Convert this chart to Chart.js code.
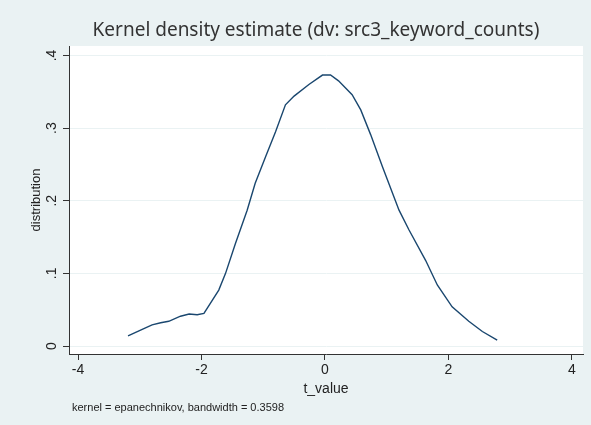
<!DOCTYPE html>
<html>
<head>
<meta charset="utf-8">
<title>Kernel density estimate</title>
<script src="https://cdn.jsdelivr.net/npm/chart.js@4/dist/chart.umd.min.js"></script>
<style>
  html, body { margin: 0; padding: 0; background: #eaf2f3; }
  canvas { display: block; }
</style>
</head>
<body>
<canvas id="chart" width="591" height="425"></canvas>
<script>
// estimated density of t_value (epanechnikov kernel)
const tValues = [
  -3.19, -2.96, -2.80, -2.66, -2.53, -2.34, -2.20, -2.07, -1.96, -1.72,
  -1.61, -1.45, -1.26, -1.13, -0.96, -0.80, -0.64, -0.50, -0.26, -0.04,
  0.09, 0.22, 0.44, 0.58, 0.74, 0.93, 1.20, 1.36, 1.63, 1.82,
  2.06, 2.33, 2.55, 2.79
];
const density = [
  0.014, 0.023, 0.029, 0.032, 0.034, 0.041, 0.044, 0.043, 0.045, 0.077,
  0.100, 0.141, 0.187, 0.224, 0.261, 0.295, 0.332, 0.344, 0.360, 0.373,
  0.373, 0.365, 0.346, 0.325, 0.291, 0.247, 0.187, 0.160, 0.118, 0.084,
  0.054, 0.034, 0.020, 0.008
];
const xTicks = [-4, -2, 0, 2, 4];
const yTicks = [0, 0.1, 0.2, 0.3, 0.4];

const titleText = "Kernel density estimate (dv: src3_keyword_counts)";
const noteText = "kernel = epanechnikov, bandwidth = 0.3598";

const BG = "#eaf2f3";
const INK = "#222222";
const AXIS = "#333333";
const FONT = "Arial, 'Liberation Sans', sans-serif";

Chart.defaults.font.family = FONT;
Chart.defaults.color = INK;

function fmtY(v) {
  if (v === 0) return "0";
  return String(Math.round(v * 10) / 10).replace(/^0/, "");
}

// grey page, white plot region, title, rotated y labels and the kernel note
const stataLook = {
  id: "stataLook",
  beforeDraw(chart) {
    const { ctx, chartArea: a } = chart;
    ctx.save();
    ctx.fillStyle = BG;
    ctx.fillRect(0, 0, chart.width, chart.height);
    ctx.fillStyle = "#ffffff";
    ctx.fillRect(a.left, a.top, a.right - a.left, a.bottom - a.top);
    ctx.restore();
  },
  afterDraw(chart) {
    const { ctx } = chart;
    const y = chart.scales.y;
    ctx.save();

    ctx.fillStyle = "#333333";
    ctx.font = "19px 'Noto Sans', " + FONT;
    ctx.textAlign = "center";
    ctx.textBaseline = "alphabetic";
    ctx.fillText(titleText, 316, 36);

    ctx.fillStyle = INK;
    ctx.font = "14px " + FONT;
    ctx.textBaseline = "middle";
    yTicks.forEach(v => {
      ctx.save();
      ctx.translate(52, y.getPixelForValue(v));
      ctx.rotate(-Math.PI / 2);
      ctx.fillText(fmtY(v), 0, 0);
      ctx.restore();
    });

    ctx.font = "11px " + FONT;
    ctx.textAlign = "left";
    ctx.fillText(noteText, 72, 408);
    ctx.restore();
  }
};

new Chart(document.getElementById("chart"), {
  type: "line",
  data: {
    datasets: [{
      data: tValues.map((x, i) => ({ x, y: density[i] })),
      borderColor: "#1a476f",
      borderWidth: 1.4,
      pointRadius: 0,
      tension: 0,
      fill: false
    }]
  },
  options: {
    responsive: false,
    animation: false,
    devicePixelRatio: 1,
    layout: { padding: { left: 0, right: 8, top: 46, bottom: 27 } },
    plugins: {
      legend: { display: false },
      tooltip: { enabled: false }
    },
    scales: {
      x: {
        type: "linear",
        min: -4.146,
        max: 4.18,
        afterBuildTicks: s => { s.ticks = xTicks.map(v => ({ value: v })); },
        afterFit: s => { s.height = 44; },
        grid: { drawOnChartArea: false, tickColor: AXIS, tickLength: 6 },
        border: { color: AXIS, width: 1 },
        ticks: { color: INK, font: { size: 14 }, padding: 2, maxRotation: 0 },
        title: {
          display: true,
          text: "t_value",
          color: INK,
          font: { size: 14 },
          padding: { top: 0, bottom: 0 }
        }
      },
      y: {
        type: "linear",
        min: -0.011,
        max: 0.413,
        afterBuildTicks: s => { s.ticks = yTicks.map(v => ({ value: v })); },
        afterFit: s => { s.width = 69; },
        grid: { color: BG, tickColor: AXIS, tickLength: 6 },
        border: { color: AXIS, width: 1 },
        ticks: { display: false },
        title: {
          display: true,
          text: "distribution",
          color: INK,
          font: { size: 13 },
          padding: { top: 29, bottom: 0 }
        }
      }
    }
  },
  plugins: [stataLook]
});
</script>
</body>
</html>
